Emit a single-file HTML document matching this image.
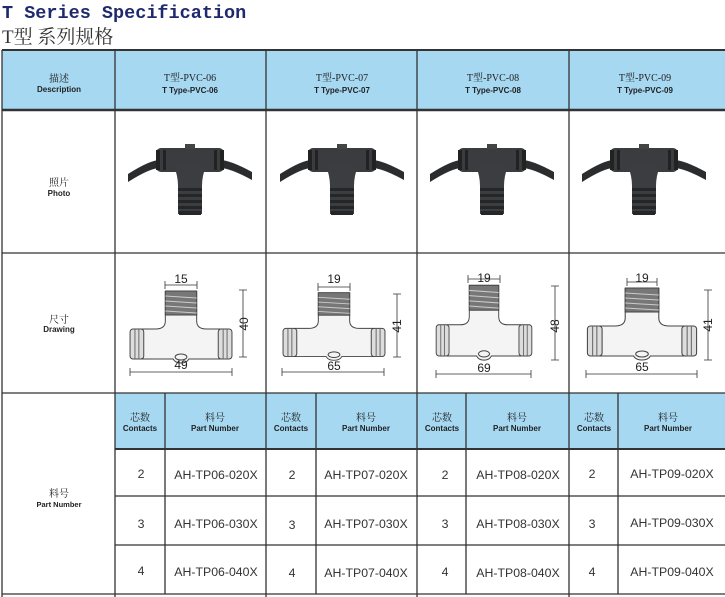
<!DOCTYPE html>
<html><head><meta charset="utf-8"><style>
body{margin:0;width:725px;height:597px;overflow:hidden;background:#fff}
svg{display:block}
.t{font-family:"Liberation Sans","Noto Sans CJK SC",sans-serif}
.s{font-family:"Liberation Serif","Noto Serif CJK SC",serif}
</style></head><body>
<svg width="725" height="597" viewBox="0 0 725 597">
<defs>
<g id="ph">
 <path d="M-62 16 Q-40 2 -30 2 L30 2 Q40 2 62 14 L62 22 Q40 10 30 10 L-30 10 Q-40 10 -62 24 Z" fill="#2a2c2e"/>
 <rect x="-34" y="-10" width="68" height="24" rx="5" fill="#3a3c3f"/>
 <rect x="-34" y="-8" width="4" height="20" fill="#222"/><rect x="-27" y="-8" width="3" height="20" fill="#222"/>
 <rect x="30" y="-8" width="4" height="20" fill="#222"/><rect x="24" y="-8" width="3" height="20" fill="#222"/>
 <rect x="-5" y="-14" width="10" height="5" fill="#444"/>
 <path d="M-16 8 Q-12 18 -12 28 L-12 56 L12 56 L12 28 Q12 18 16 8 Z" fill="#3b3d40"/>
 <g fill="#252628"><rect x="-12" y="30" width="24" height="3"/><rect x="-12" y="36" width="24" height="3"/><rect x="-12" y="42" width="24" height="3"/><rect x="-12" y="48" width="24" height="3"/><rect x="-11" y="53" width="22" height="4"/></g>
</g>
<g id="dr" fill="none" stroke="#444" stroke-width="1">
 <path d="M-16 6 L-16 36 Q-16 44 -26 44 L-40 44 L-40 74 L-8 74 Q-6 78 0 78 Q6 78 8 74 L40 74 L40 44 L26 44 Q16 44 16 36 L16 6" fill="#f4f4f4"/>
 <rect x="-16" y="6" width="32" height="24" fill="#777"/>
 <g stroke="#ccc"><line x1="-16" y1="11" x2="16" y2="13"/><line x1="-16" y1="16" x2="16" y2="18"/><line x1="-16" y1="21" x2="16" y2="23"/><line x1="-16" y1="26" x2="16" y2="28"/></g>
 <rect x="-52" y="44" width="14" height="30" rx="3" fill="#ddd"/><rect x="38" y="44" width="14" height="30" rx="3" fill="#ddd"/>
 <g stroke="#666"><line x1="-47" y1="44" x2="-47" y2="74"/><line x1="-43" y1="44" x2="-43" y2="74"/><line x1="43" y1="44" x2="43" y2="74"/><line x1="47" y1="44" x2="47" y2="74"/></g>
 <ellipse cx="0" cy="72" rx="6" ry="3"/>
</g>
</defs>
<text x="2" y="18" font-size="18.5" font-weight="bold" fill="#1f2a6e" style="font-family:'Liberation Mono',monospace">T Series Specification</text>
<text x="2" y="43" class="s" font-size="19" fill="#333">T型 系列规格</text>
<rect x="2" y="50" width="730" height="60" fill="#a6d8f2"/>
<rect x="115" y="393" width="620" height="56" fill="#a6d8f2"/>
<g stroke="#333" stroke-width="1.3">
<line x1="2" y1="50" x2="725" y2="50" stroke-width="2"/>
<line x1="2" y1="110" x2="725" y2="110" stroke-width="2.5"/>
<line x1="2" y1="253" x2="725" y2="253"/>
<line x1="2" y1="393" x2="725" y2="393"/>
<line x1="115" y1="449" x2="725" y2="449" stroke-width="2"/>
<line x1="115" y1="496" x2="725" y2="496"/>
<line x1="115" y1="545" x2="725" y2="545"/>
<line x1="2" y1="594" x2="725" y2="594"/>
<line x1="2" y1="50" x2="2" y2="597"/>
<line x1="115" y1="50" x2="115" y2="597"/>
<line x1="266" y1="50" x2="266" y2="597"/>
<line x1="417" y1="50" x2="417" y2="597"/>
<line x1="569" y1="50" x2="569" y2="597"/>
<line x1="165" y1="393" x2="165" y2="594"/>
<line x1="316" y1="393" x2="316" y2="594"/>
<line x1="466" y1="393" x2="466" y2="594"/>
<line x1="618" y1="393" x2="618" y2="594"/>
</g>
<g class="t" text-anchor="middle" fill="#222">
<text x="59" y="82" font-size="10" class="s">描述</text><text x="59" y="92" font-size="8" font-weight="bold">Description</text>
<text x="59" y="186" font-size="10" class="s">照片</text><text x="59" y="196" font-size="8" font-weight="bold">Photo</text>
<text x="59" y="323" font-size="10" class="s">尺寸</text><text x="59" y="332" font-size="8" font-weight="bold">Drawing</text>
<text x="59" y="497" font-size="10" class="s">料号</text><text x="59" y="507" font-size="7.5" font-weight="bold">Part Number</text>
<g font-size="10"><text x="190" y="81" class="s">T型-PVC-06</text><text x="342" y="81" class="s">T型-PVC-07</text><text x="493" y="81" class="s">T型-PVC-08</text><text x="645" y="81" class="s">T型-PVC-09</text></g>
<g font-size="8" font-weight="bold"><text x="190" y="93">T Type-PVC-06</text><text x="342" y="93">T Type-PVC-07</text><text x="493" y="93">T Type-PVC-08</text><text x="645" y="93">T Type-PVC-09</text></g>
<g font-size="10" class="s"><text x="140" y="421">芯数</text><text x="215" y="421">料号</text><text x="291" y="421">芯数</text><text x="366" y="421">料号</text><text x="442" y="421">芯数</text><text x="517" y="421">料号</text><text x="594" y="421">芯数</text><text x="668" y="421">料号</text></g>
<g font-size="8" font-weight="bold"><text x="140" y="431">Contacts</text><text x="215" y="431">Part Number</text><text x="291" y="431">Contacts</text><text x="366" y="431">Part Number</text><text x="442" y="431">Contacts</text><text x="517" y="431">Part Number</text><text x="594" y="431">Contacts</text><text x="668" y="431">Part Number</text></g>
<g font-size="12.3" fill="#333">
<text x="141" y="478">2</text><text x="216" y="479">AH-TP06-020X</text><text x="292" y="479">2</text><text x="366" y="479">AH-TP07-020X</text><text x="445" y="479">2</text><text x="518" y="479">AH-TP08-020X</text><text x="592" y="478">2</text><text x="672" y="478">AH-TP09-020X</text>
<text x="141" y="528">3</text><text x="216" y="528">AH-TP06-030X</text><text x="292" y="529">3</text><text x="366" y="528">AH-TP07-030X</text><text x="445" y="528">3</text><text x="518" y="528">AH-TP08-030X</text><text x="592" y="528">3</text><text x="672" y="527">AH-TP09-030X</text>
<text x="141" y="575">4</text><text x="216" y="576">AH-TP06-040X</text><text x="292" y="577">4</text><text x="366" y="577">AH-TP07-040X</text><text x="445" y="576">4</text><text x="518" y="577">AH-TP08-040X</text><text x="592" y="576">4</text><text x="672" y="576">AH-TP09-040X</text>
</g>
</g>
<use href="#ph" x="190" y="158"/><use href="#ph" x="342" y="158"/><use href="#ph" x="492" y="158"/><use href="#ph" x="644" y="158"/>
<g transform="translate(181,285) scale(0.98,1)"><use href="#dr"/></g>
<g transform="translate(334,287) scale(0.98,0.94)"><use href="#dr"/></g>
<g transform="translate(484,279) scale(0.92,1.04)"><use href="#dr"/></g>
<g transform="translate(642,282) scale(1.05,1)"><use href="#dr"/></g>
<g stroke="#333" stroke-width="0.8" fill="none">
<path d="M165 285h32M130 372h102M243 290v67M318 287h32M282 372h102M397 294v63M468 279h32M436 374h95M555 286v74M627 282h30M586 374h111M708 290v70"/>
<path d="M165 281v8M197 281v8M130 368v8M232 368v8M239 290h8M239 357h8M318 283v8M350 283v8M282 368v8M384 368v8M393 294h8M393 357h8M468 275v8M500 275v8M436 370v8M531 370v8M551 286h8M551 360h8M627 278v8M657 278v8M586 370v8M697 370v8M704 290h8M704 360h8"/>
</g>
<g class="t" font-size="12" fill="#222" text-anchor="middle">
<text x="181" y="283">15</text><text x="181" y="369">49</text><text x="334" y="283">19</text><text x="334" y="370">65</text><text x="484" y="282">19</text><text x="484" y="372">69</text><text x="642" y="282">19</text><text x="642" y="371">65</text>
<text transform="translate(248,324) rotate(-90)">40</text><text transform="translate(401,326) rotate(-90)">41</text><text transform="translate(559,326) rotate(-90)">48</text><text transform="translate(712,325) rotate(-90)">41</text>
</g>
</svg>
</body></html>
